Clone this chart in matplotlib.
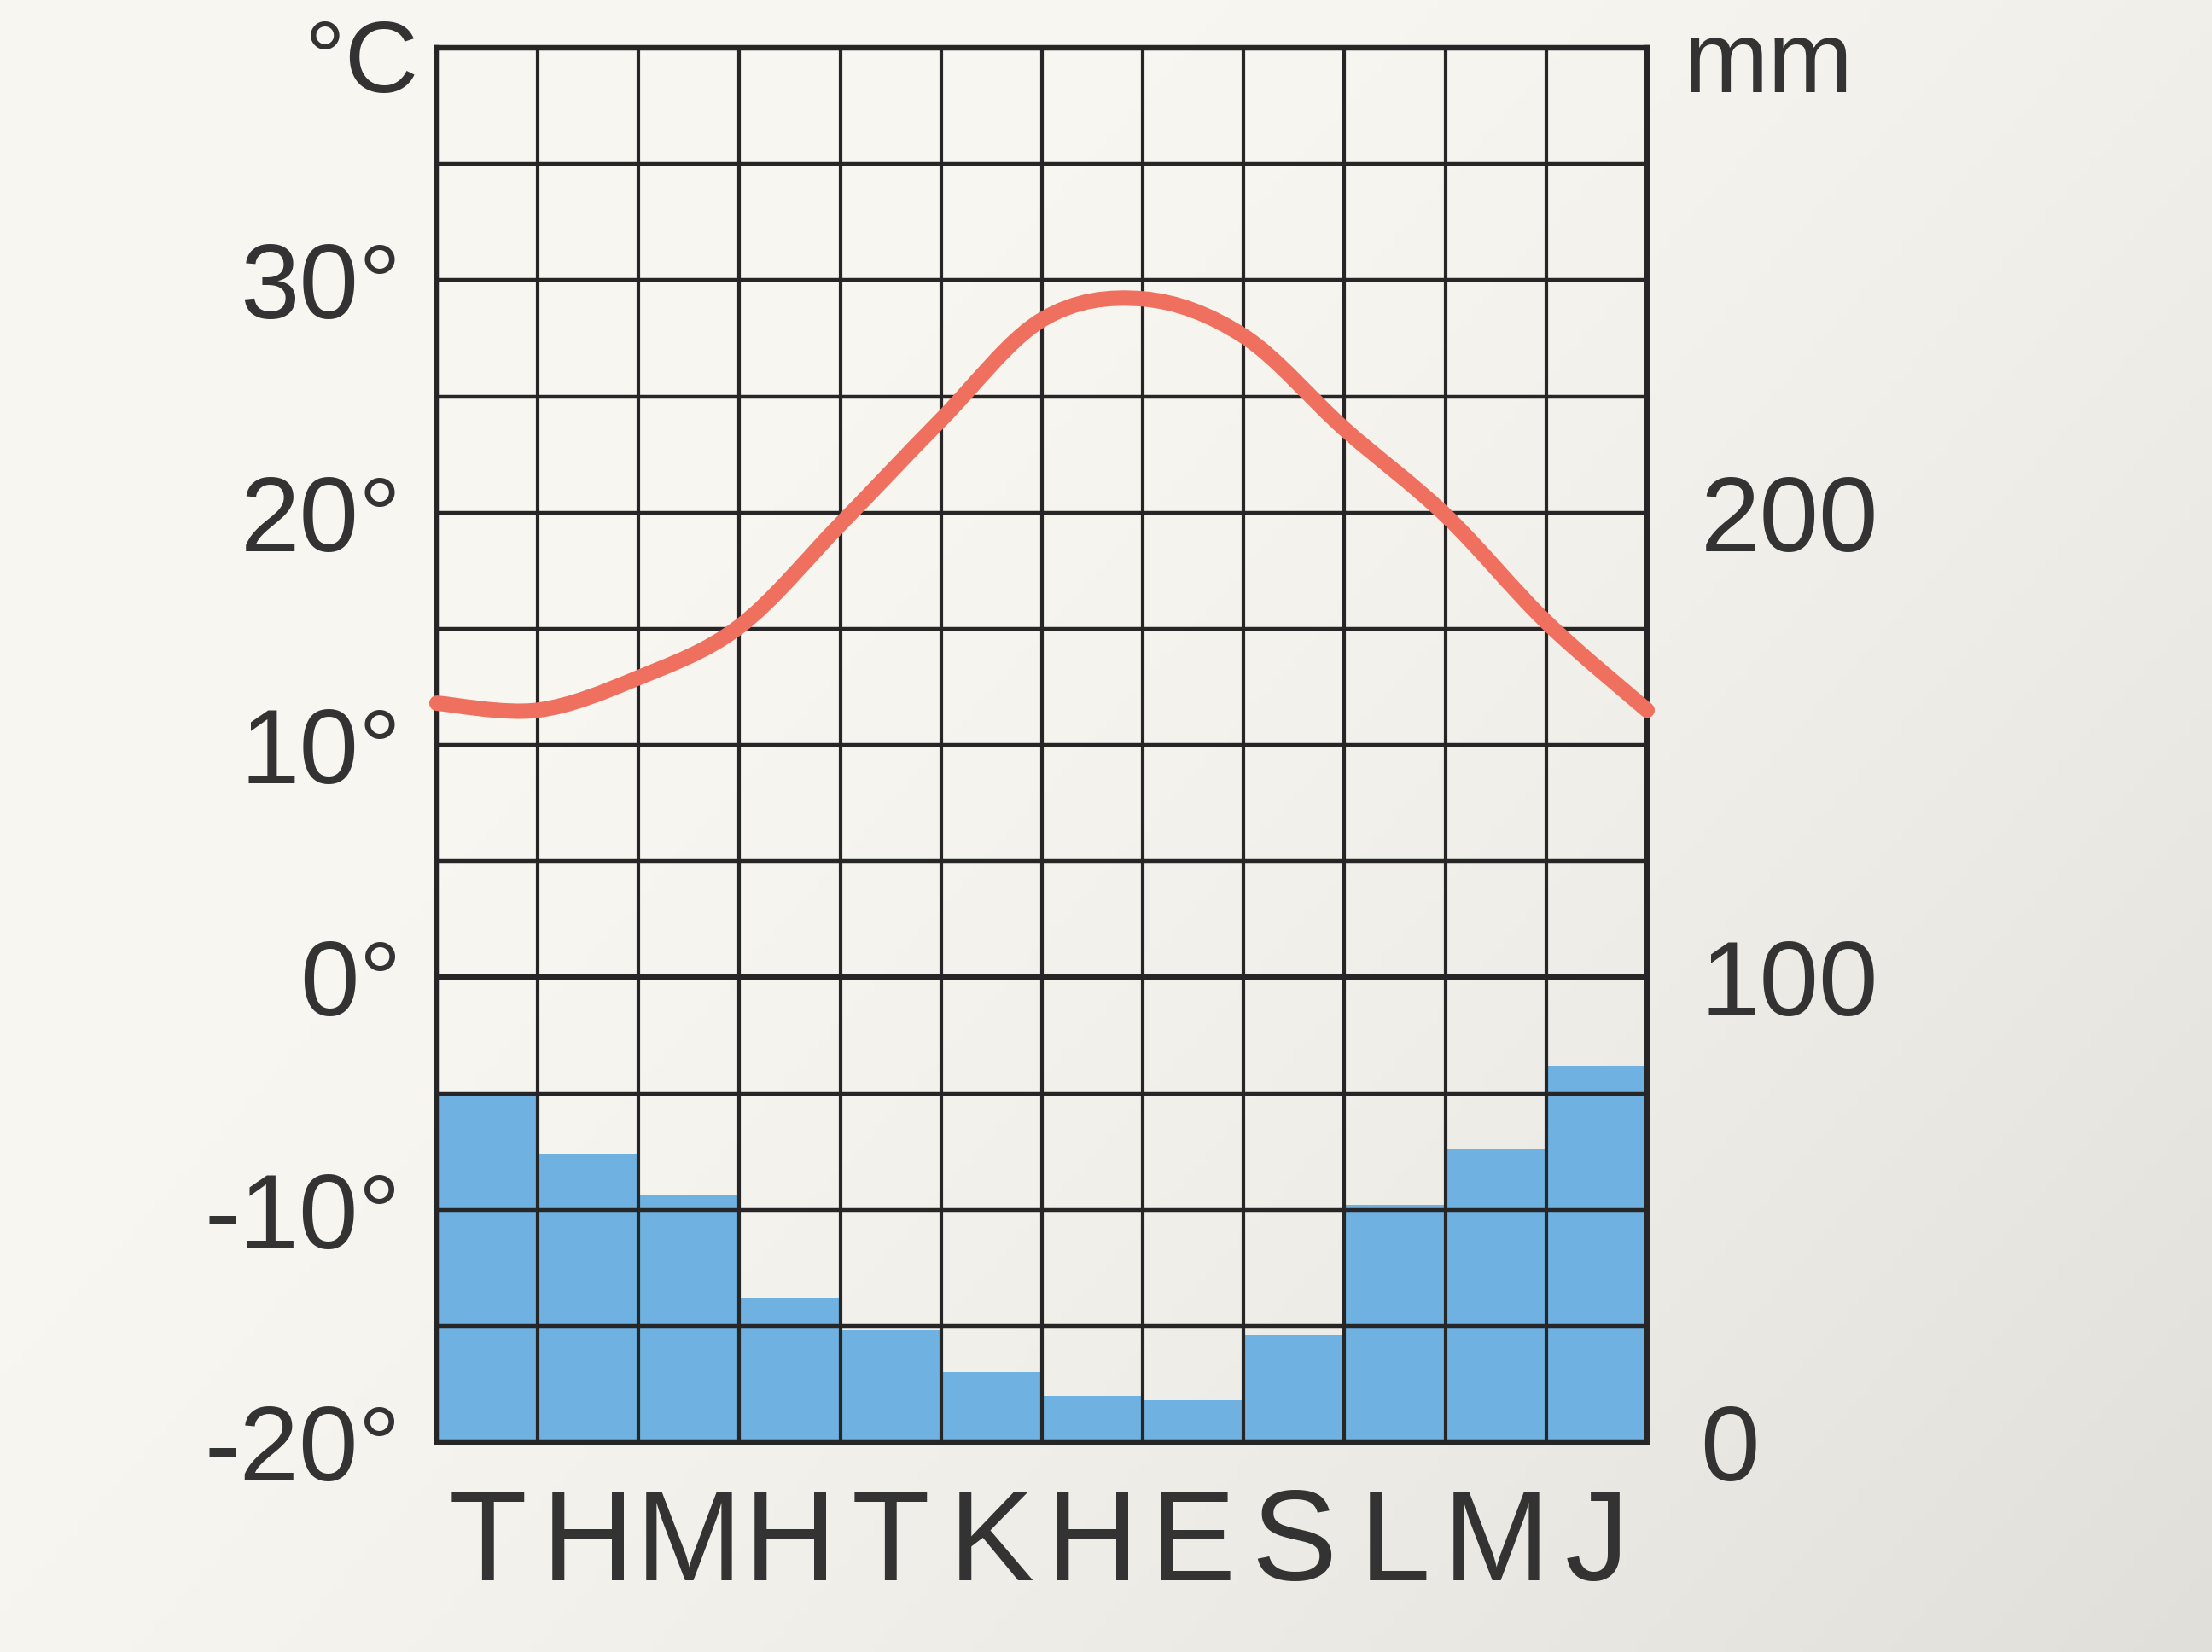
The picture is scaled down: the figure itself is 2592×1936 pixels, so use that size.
"""
climate diagram (ilmastodiagrammi): monthly temperature line over precipitation bars.
values read off a hand-coloured textbook chart.

output: out.png
"""
import matplotlib

matplotlib.use("Agg")
import matplotlib.pyplot as plt
import numpy as np
from matplotlib.patches import PathPatch
from matplotlib.path import Path

# month initials (finnish)
months = ["T", "H", "M", "H", "T", "K", "H", "E", "S", "L", "M", "J"]

# precipitation per month, mm
precip_mm = [75, 62, 53, 31, 24, 15, 10, 9, 23, 51, 63, 81]

# temperature read where the drawn curve crosses each month boundary (13 edges), °C
temp_edges_c = [11.8, 11.5, 12.9, 15.1, 19.5, 24.0, 28.3, 29.2, 27.6, 23.6, 19.9, 15.3, 11.5]

temp_ticks = [-20, -10, 0, 10, 20, 30]
temp_tick_labels = ["-20°", "-10°", "0°", "10°", "20°", "30°"]
mm_ticks = [0, 100, 200]
mm_tick_labels = ["0", "100", "200"]

TEXT = "#333333"
GRID = "#262626"
RED = "#f0705f"
BLUE = "#6fb2e2"
FONT = "Liberation Sans"


def _smooth_path(xs, ys):
    """catmull-rom through the read points, as cubic bezier segments."""
    pts = np.column_stack([xs, ys]).astype(float)
    verts = [pts[0]]
    codes = [Path.MOVETO]
    n = len(pts)
    for i in range(n - 1):
        p0 = pts[i - 1] if i > 0 else pts[i]
        p1, p2 = pts[i], pts[i + 1]
        p3 = pts[i + 2] if i + 2 < n else pts[i + 1]
        verts += [p1 + (p2 - p0) / 6, p2 - (p3 - p1) / 6, p2]
        codes += [Path.CURVE4] * 3
    return Path(verts, codes)


fig = plt.figure(figsize=(25.92, 19.36), dpi=100)

# paper background, a little shaded towards the lower right like the photo
bg = fig.add_axes([0, 0, 1, 1], zorder=-10)
gx, gy = np.meshgrid(np.linspace(0, 1, 200), np.linspace(0, 1, 200))
shade = np.clip(0.6 * gx + 0.4 * gy - 0.3, 0, 1) ** 1.4
bg_rgb = np.dstack([0.970 - 0.15 * shade, 0.966 - 0.15 * shade, 0.945 - 0.15 * shade])
bg.imshow(bg_rgb, extent=[0, 1, 0, 1], aspect="auto", origin="upper")
bg.axis("off")

ax = fig.add_axes([0.1975, 0.127, 0.5471, 0.844])
ax2 = ax.twinx()
ax.set_zorder(ax2.get_zorder() + 1)
ax.patch.set_visible(False)
ax2.patch.set_visible(False)

n = len(months)
x_edges = np.arange(n + 1)
x_mid = np.arange(n) + 0.5

# precipitation bars on the mm axis
ax2.bar(x_mid, precip_mm, width=1.0, color=BLUE, edgecolor="none", zorder=1)
ax2.set_ylim(0, 300)

# grid: month columns and 5 °C rows
ax.set_xlim(0, n)
ax.set_ylim(-20, 40)
for xv in x_edges[1:-1]:
    ax.axvline(xv, color=GRID, lw=3.0, zorder=2)
for yv in range(-15, 40, 5):
    ax.axhline(yv, color=GRID, lw=3.2 if yv != 0 else 5.5, zorder=2)

# temperature curve
path = _smooth_path(x_edges, temp_edges_c)
ax.add_patch(PathPatch(path, fill=False, edgecolor=RED, lw=13, capstyle="round",
                       joinstyle="round", zorder=3, clip_on=False))

for a in (ax, ax2):
    for s in a.spines.values():
        s.set_color(GRID)
        s.set_linewidth(4.5)

ax.set_yticks(temp_ticks)
ax.set_yticklabels(temp_tick_labels, fontsize=90, fontfamily=FONT, color=TEXT)
ax.tick_params(axis="y", length=0, pad=30)

ax2.set_yticks(mm_ticks)
ax2.set_yticklabels(mm_tick_labels, fontsize=90, fontfamily=FONT, color=TEXT)
ax2.tick_params(axis="y", length=0, pad=45)

ax.set_xticks(x_mid)
ax.set_xticklabels(months, fontsize=108, fontfamily=FONT, color=TEXT)
ax.tick_params(axis="x", length=0, pad=38)

# unit labels above the axes
fig.text(0.1894, 0.944, "°C", fontsize=86, fontfamily=FONT, color=TEXT,
         ha="right", va="baseline")
fig.text(0.761, 0.944, "mm", fontsize=86, fontfamily=FONT, color=TEXT,
         ha="left", va="baseline")

fig.savefig("out.png", dpi=100)
plt.close(fig)
